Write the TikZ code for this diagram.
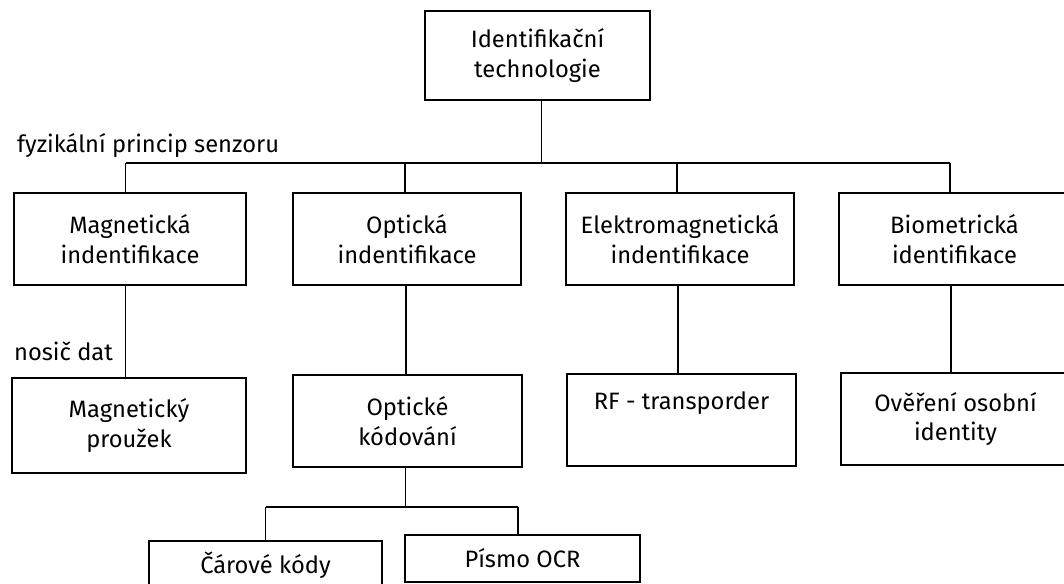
\documentclass[tikz,border=0pt]{standalone}
\usepackage{fontspec}
\setmainfont{Fira Sans}
\begin{document}
\begin{tikzpicture}[x=1pt,y=-1pt,
  box/.style={draw, line width=1.9pt, inner sep=0pt, align=center,
    font=\fontsize{23.7}{29.5}\selectfont},
  link/.style={line width=1.7pt},
  lbl/.style={anchor=west, inner sep=0pt, font=\fontsize{23.7}{29.5}\selectfont}]
\useasboundingbox (0,0) rectangle (1064,583);

% root
\node[box, minimum width=225pt, minimum height=89pt] (top) at (537.5,55.5)
  {Identifikační\\technologie};

% level 1: sensor principle
\node[box, minimum width=232pt, minimum height=92pt] (mag) at (130,239)
  {Magnetická\\indentifikace};
\node[box, minimum width=228pt, minimum height=92pt] (opt) at (407,239)
  {Optická\\indentifikace};
\node[box, minimum width=228pt, minimum height=92pt] (ele) at (680,239)
  {Elektromagnetická\\indentifikace};
\node[box, minimum width=231pt, minimum height=92pt] (bio) at (954.5,239)
  {Biometrická\\identifikace};

% level 2: data carrier
\node[box, minimum width=234pt, minimum height=95pt] (magp) at (129,425.5)
  {Magnetický\\proužek};
\node[box, minimum width=229pt, minimum height=92pt] (optk) at (407.5,421)
  {Optické\\kódování};
\node[box, minimum width=229pt, minimum height=92pt] (rf) at (681.5,420)
  {RF - transporder\\\strut};
\node[box, minimum width=229pt, minimum height=92pt] (over) at (955.5,419)
  {Ověření osobní\\identity};

% level 3: optical codes
\node[box, minimum width=233pt, minimum height=48pt] (car) at (265.5,565)
  {Čárové kódy};
\node[box, minimum width=235pt, minimum height=47pt] (pis) at (522.5,558.5)
  {Písmo OCR};

% labels
\node[lbl] (fyz) at (17,146) {fyzikální princip senzoru};
\node[lbl] (nos) at (14,351) {nosič dat};

% connectors
\coordinate (bus) at (0,163);
\coordinate (bus2) at (0,507);
\draw[link] ([xshift=4pt]top.south) -- ([xshift=4pt]top.south |- bus);
\draw[link] ([xshift=-4.5pt]mag.north |- bus) -- ([xshift=-4.5pt]bio.north |- bus);
\draw[link] ([xshift=-4.5pt]mag.north) -- ([xshift=-4.5pt]mag.north |- bus);
\draw[link] ([xshift=-2pt]opt.north) -- ([xshift=-2pt]opt.north |- bus);
\draw[link] ([xshift=-3pt]ele.north) -- ([xshift=-3pt]ele.north |- bus);
\draw[link] ([xshift=-4.5pt]bio.north) -- ([xshift=-4.5pt]bio.north |- bus);

\draw[link] ([xshift=-4.5pt]mag.south) -- ([xshift=-4.5pt]mag.south |- magp.north);
\draw[link] ([xshift=-1pt]opt.south) -- ([xshift=-1pt]opt.south |- optk.north);
\draw[link] ([xshift=-2pt]ele.south) -- ([xshift=-2pt]ele.south |- rf.north);
\draw[link] ([xshift=-3.5pt]bio.south) -- ([xshift=-3.5pt]bio.south |- over.north);

\draw[link] ([xshift=-2pt]optk.south) -- ([xshift=-2pt]optk.south |- bus2);
\draw[link] (car.north |- bus2) -- ([xshift=-4.5pt]pis.north |- bus2);
\draw[link] (car.north) -- (car.north |- bus2);
\draw[link] ([xshift=-4.5pt]pis.north) -- ([xshift=-4.5pt]pis.north |- bus2);
\end{tikzpicture}
\end{document}
